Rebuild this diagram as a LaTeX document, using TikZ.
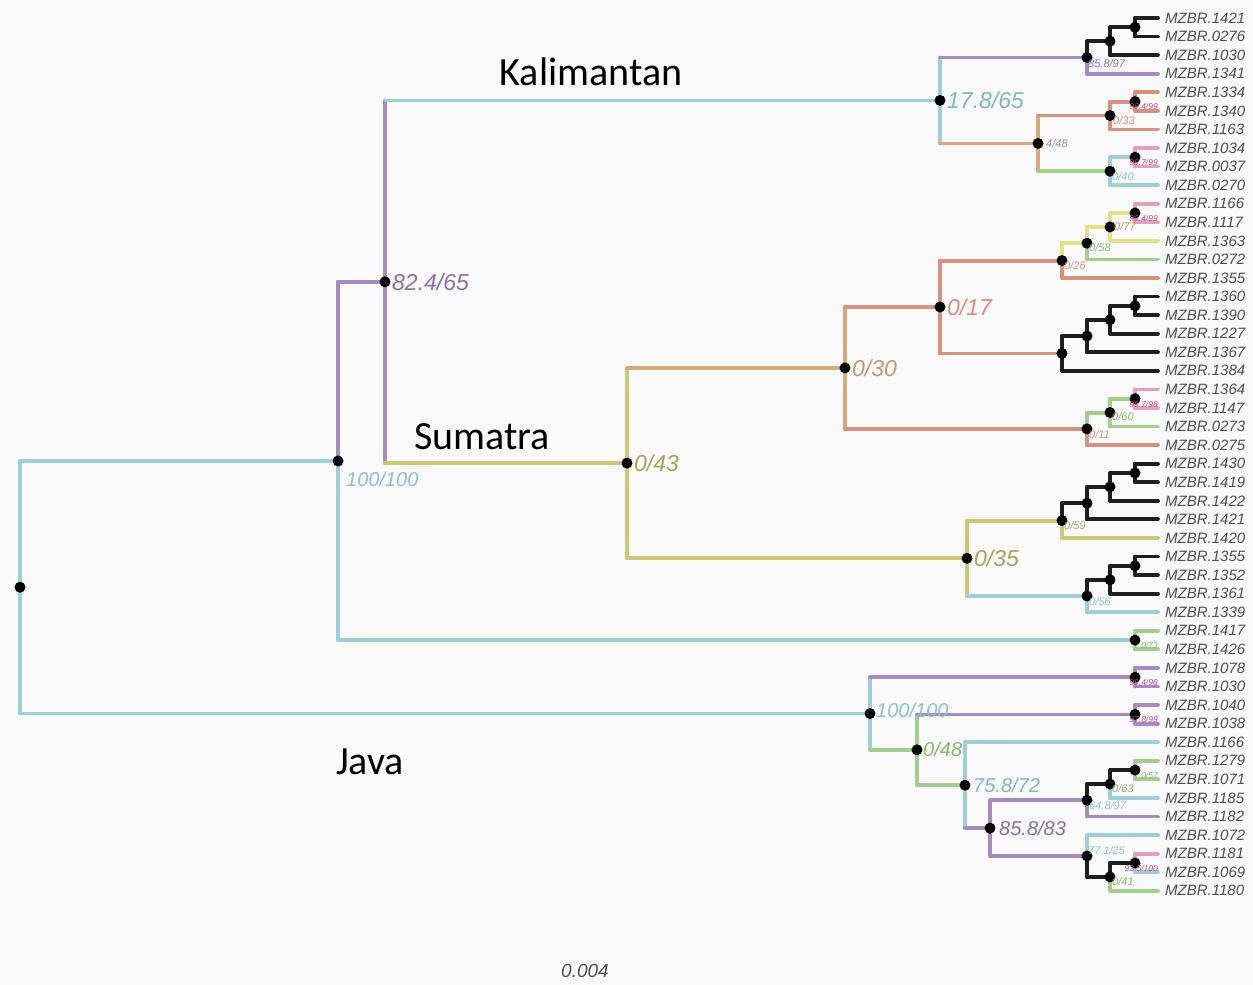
\documentclass[tikz,border=0pt]{standalone}
\usepackage{fontspec}
\setmainfont{Liberation Sans}
\newfontfamily\cladefont{Carlito}
\usetikzlibrary{positioning}
\definecolor{paper}{HTML}{FAFAFA}
\definecolor{treeblue}{HTML}{9FCEDB}
\definecolor{treepurple}{HTML}{A68BC0}
\definecolor{treered}{HTML}{D8907F}
\definecolor{treeorange}{HTML}{D9A97E}
\definecolor{treeolive}{HTML}{CFC873}
\definecolor{treeyellow}{HTML}{E4E184}
\definecolor{treegreen}{HTML}{A3CF8E}
\definecolor{treepink}{HTML}{E2A0BE}
\definecolor{treeink}{HTML}{1E1E1E}
\definecolor{labpurple}{HTML}{8C6DB5}
\definecolor{labblue}{HTML}{8CC0DA}
\definecolor{labteal}{HTML}{7FB8BC}
\definecolor{labolive}{HTML}{A8A45A}
\definecolor{laborange}{HTML}{C9976A}
\definecolor{labred}{HTML}{D98C7C}
\definecolor{labgreen}{HTML}{86B86E}
\definecolor{labmag}{HTML}{C8457F}
\definecolor{labgrey}{HTML}{A08C88}
\definecolor{tipgray}{HTML}{4E4E4E}
\tikzset{
  branch/.style={line width=3.8pt,line cap=round,line join=round},
  tiplab/.style={anchor=west,xshift=7pt,font=\fontsize{15}{15}\selectfont\itshape,text=tipgray,inner sep=0pt},
  supbig/.style={font=\fontsize{23}{23}\selectfont\itshape,inner sep=0pt},
  supmid/.style={font=\fontsize{20}{20}\selectfont\itshape,inner sep=0pt},
  supsmall/.style={font=\fontsize{11}{11}\selectfont\itshape,inner sep=0pt},
  suptiny/.style={font=\fontsize{8.5}{8.5}\selectfont\itshape,inner sep=0pt,anchor=north east,xshift=23pt,yshift=-2pt},
  cladelab/.style={font=\cladefont\fontsize{40}{40}\selectfont,text=black,inner sep=0pt}
}

\begin{document}
\begin{tikzpicture}[x=1pt,y=-1pt]
\fill[paper] (0,0) rectangle (1253,985);
\useasboundingbox (0,0) rectangle (1253,985);
\foreach \lbl [count=\i] in {1421,0276,1030,1341,1334,1340,1163,1034,0037,0270,
  1166,1117,1363,0272,1355,1360,1390,1227,1367,1384,1364,1147,0273,0275,1430,
  1419,1422,1421,1420,1355,1352,1361,1339,1417,1426,1078,1030,1040,1038,1166,
  1279,1071,1185,1182,1072,1181,1069,1180}{
  \coordinate (t\i) at (1158,{18+(\i-1)*18.57});
  \node[tiplab] (l\i) at (t\i) {MZBR.\lbl};
}
\coordinate (ka) at (1135,27.3);
\coordinate (kb) at (1110,41.2);
\coordinate (kc) at (1087,57.5);
\coordinate (kd) at (1135,101.6);
\coordinate (ke) at (1110,115.5);
\coordinate (kh) at (1135,157.3);
\coordinate (kg) at (1110,171.2);
\coordinate (kf) at (1038,143.4);
\coordinate (kal) at (940,100.4);
\coordinate (sa1) at (1135,213);
\coordinate (sa2) at (1110,226.9);
\coordinate (sa3) at (1087,243.2);
\coordinate (sa4) at (1062,260.6);
\coordinate (sb1) at (1135,305.9);
\coordinate (sb2) at (1110,319.8);
\coordinate (sb3) at (1087,336);
\coordinate (sb4) at (1062,353.4);
\coordinate (s17) at (940,307);
\coordinate (sc1) at (1135,398.7);
\coordinate (sc2) at (1110,412.6);
\coordinate (sc3) at (1087,428.9);
\coordinate (s30) at (845,367.9);
\coordinate (sd1) at (1135,473);
\coordinate (sd2) at (1110,486.9);
\coordinate (sd3) at (1087,503.2);
\coordinate (sd4) at (1062,520.6);
\coordinate (se1) at (1135,565.8);
\coordinate (se2) at (1110,579.8);
\coordinate (se3) at (1087,596);
\coordinate (s35) at (967,558.3);
\coordinate (sum) at (627,463.1);
\coordinate (kasu) at (385,281.8);
\coordinate (sf) at (1135,640.1);
\coordinate (top) at (338,461);
\coordinate (ja1) at (1135,677.3);
\coordinate (ja2) at (1135,714.4);
\coordinate (jb1) at (1135,770.1);
\coordinate (jb2) at (1110,784);
\coordinate (jb3) at (1087,800.3);
\coordinate (jc1) at (1135,863);
\coordinate (jc2) at (1110,876.9);
\coordinate (jc3) at (1087,856);
\coordinate (j83) at (990,828.1);
\coordinate (j72) at (965,785.2);
\coordinate (j48) at (917,749.8);
\coordinate (jav) at (870,713.5);
\coordinate (root) at (20,587.2);
\foreach \p/\c/\vc/\hc in {
  root/top/treeblue/treeblue, root/jav/treeblue/treeblue,
  top/kasu/treepurple/treepurple, top/sf/treeblue/treeblue,
  kasu/kal/treepurple/treeblue, kasu/sum/treepurple/treeolive,
  kal/kc/treeblue/treepurple, kal/kf/treeblue/treeorange,
  kc/kb/treeink/treeink, kc/t4/treepurple/treepurple,
  kb/ka/treeink/treeink, kb/t3/treeink/treeink,
  ka/t1/treeink/treeink, ka/t2/treeink/treeink,
  kf/ke/treeorange/treered, kf/kg/treeorange/treegreen,
  ke/kd/treered/treered, ke/t7/treered/treered,
  kd/t5/treered/treered, kd/t6/treered/treered,
  kg/kh/treeblue/treeblue, kg/t10/treeblue/treeblue,
  kh/t8/treepink/treepink, kh/t9/treepink/treepink,
  sum/s30/treeolive/treeorange, sum/s35/treeolive/treeolive,
  s30/s17/treeorange/treered, s30/sc3/treeorange/treered,
  s17/sa4/treered/treered, s17/sb4/treered/treered,
  sa4/sa3/treeyellow/treeyellow, sa4/t15/treered/treered,
  sa3/sa2/treeyellow/treeyellow, sa3/t14/treegreen/treegreen,
  sa2/sa1/treeyellow/treeyellow, sa2/t13/treeyellow/treeyellow,
  sa1/t11/treepink/treepink, sa1/t12/treepink/treepink,
  sb4/sb3/treeink/treeink, sb4/t20/treeink/treeink,
  sb3/sb2/treeink/treeink, sb3/t19/treeink/treeink,
  sb2/sb1/treeink/treeink, sb2/t18/treeink/treeink,
  sb1/t16/treeink/treeink, sb1/t17/treeink/treeink,
  sc3/sc2/treegreen/treegreen, sc3/t24/treered/treered,
  sc2/sc1/treegreen/treegreen, sc2/t23/treegreen/treegreen,
  sc1/t21/treepink/treepink, sc1/t22/treepink/treepink,
  s35/sd4/treeolive/treeolive, s35/se3/treeolive/treeblue,
  sd4/sd3/treeink/treeink, sd4/t29/treeolive/treeolive,
  sd3/sd2/treeink/treeink, sd3/t28/treeink/treeink,
  sd2/sd1/treeink/treeink, sd2/t27/treeink/treeink,
  sd1/t25/treeink/treeink, sd1/t26/treeink/treeink,
  se3/se2/treeink/treeink, se3/t33/treeblue/treeblue,
  se2/se1/treeink/treeink, se2/t32/treeink/treeink,
  se1/t30/treeink/treeink, se1/t31/treeink/treeink,
  sf/t34/treegreen/treegreen, sf/t35/treegreen/treegreen,
  jav/ja1/treeblue/treepurple, jav/j48/treeblue/treegreen,
  ja1/t36/treepurple/treepurple, ja1/t37/treepurple/treepurple,
  j48/ja2/treegreen/treepurple, j48/j72/treegreen/treegreen,
  ja2/t38/treepurple/treepurple, ja2/t39/treepurple/treepurple,
  j72/t40/treeblue/treeblue, j72/j83/treeblue/treepurple,
  j83/jb3/treepurple/treepurple, j83/jc3/treepurple/treepurple,
  jb3/jb2/treeink/treeink, jb3/t44/treepurple/treepurple,
  jb2/jb1/treeink/treeink, jb2/t43/treeblue/treeblue,
  jb1/t41/treegreen/treegreen, jb1/t42/treegreen/treegreen,
  jc3/t45/treeblue/treeblue, jc3/jc2/treeink/treeink,
  jc2/jc1/treeink/treeink, jc2/t48/treegreen/treegreen,
  jc1/t46/treepink/treepink, jc1/t47/treeblue/treeblue}{
  \draw[branch,draw=\vc] (\p) -- (\p |- \c);
  \draw[branch,draw=\hc] (\p |- \c) -- (\c);
}
\foreach \n in {root,top,kasu,kal,kc,kb,ka,kf,ke,kd,kg,kh,sum,s30,s17,sa4,sa3,sa2,sa1,
  sb4,sb3,sb2,sb1,sc3,sc2,sc1,s35,sd4,sd3,sd2,sd1,se3,se2,se1,sf,
  jav,ja1,j48,ja2,j72,j83,jb3,jb2,jb1,jc3,jc2,jc1}{
  \fill[black] (\n) circle (5.5pt);
}
\node[supbig,text=labpurple,right=7pt of kasu] (lab-kasu) {82.4/65};
\node[supmid,text=labblue,below right=11pt and 8pt of top] (lab-top) {100/100};
\node[supbig,text=labteal,right=7pt of kal] (lab-kal) {17.8/65};
\node[supbig,text=labolive,right=7pt of sum] (lab-sum) {0/43};
\node[supbig,text=laborange,right=7pt of s30] (lab-s30) {0/30};
\node[supbig,text=labred,right=7pt of s17] (lab-s17) {0/17};
\node[supbig,text=labolive,right=7pt of s35] (lab-s35) {0/35};
\node[supmid,text=labblue,above right=-4pt and 6pt of jav] (lab-jav) {100/100};
\node[supmid,text=labgreen,right=6pt of j48] (lab-j48) {0/48};
\node[supmid,text=labteal,right=8pt of j72] (lab-j72) {75.8/72};
\node[supmid,text=labpurple,right=9pt of j83] (lab-j83) {85.8/83};
\node[supsmall,text=labpurple,below right=2pt and 1pt of kc] (lab-kc) {85.8/97};
\node[suptiny,text=labmag] (lab-kd) at (kd) {99.4/99};
\node[supsmall,text=labred,below right=1pt and 3pt of ke] (lab-ke) {0/33};
\node[supsmall,text=labgrey,right=8pt of kf] (lab-kf) {4/48};
\node[suptiny,text=labmag] (lab-kh) at (kh) {99.7/99};
\node[supsmall,text=labblue,below right=1pt and 2pt of kg] (lab-kg) {0/40};
\node[suptiny,text=labmag] (lab-sa1) at (sa1) {99.4/99};
\node[supsmall,text=labolive,right=4pt of sa2] (lab-sa2) {0/77};
\node[supsmall,text=labgreen,below right=0pt and 2pt of sa3] (lab-sa3) {0/58};
\node[supsmall,text=labred,below right=1pt and 2pt of sa4] (lab-sa4) {0/26};
\node[suptiny,text=labmag] (lab-sc1) at (sc1) {99.7/98};
\node[supsmall,text=labgreen,below right=0pt and 2pt of sc2] (lab-sc2) {0/60};
\node[supsmall,text=labred,below right=1pt and 2pt of sc3] (lab-sc3) {0/11};
\node[supsmall,text=labolive,below right=1pt and 2pt of sd4] (lab-sd4) {0/59};
\node[supsmall,text=labblue,below right=1pt and 2pt of se3] (lab-se3) {0/56};
\node[suptiny,text=labgreen] (lab-sf) at (sf) {0/73};
\node[suptiny,text=labmag] (lab-ja1) at (ja1) {99.4/98};
\node[suptiny,text=labmag] (lab-ja2) at (ja2) {97.8/99};
\node[suptiny,text=labgreen] (lab-jb1) at (jb1) {0/57};
\node[supsmall,text=labgreen,below right=0pt and 2pt of jb2] (lab-jb2) {0/63};
\node[supsmall,text=labblue,below right=1pt and 2pt of jb3] (lab-jb3) {64.8/97};
\node[supsmall,text=labblue,above right=1pt and 1pt of jc3] (lab-jc3) {77.1/25};
\node[suptiny,text=labmag] (lab-jc1) at (jc1) {93.5/100};
\node[supsmall,text=labgreen,below right=0pt and 2pt of jc2] (lab-jc2) {0/41};
\node[cladelab] (kalimantan) at (591,72) {Kalimantan};
\node[cladelab] (sumatra) at (482,437) {Sumatra};
\node[cladelab] (java) at (370,762) {Java};
\node[font=\fontsize{19}{19}\selectfont\itshape,text=tipgray] (scale) at (585,971) {0.004};
\end{tikzpicture}
\end{document}
